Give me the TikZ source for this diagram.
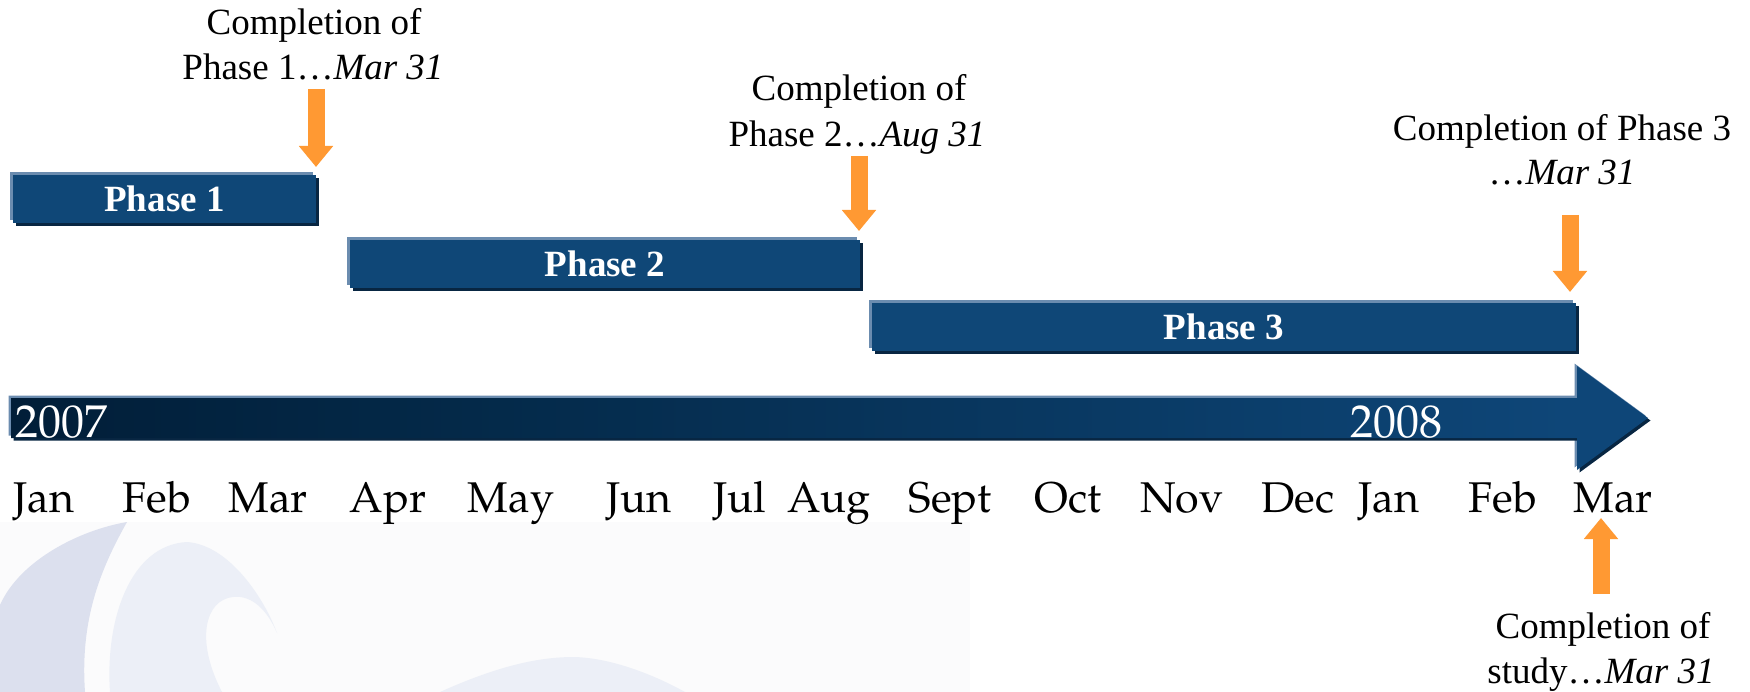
\documentclass[tikz,border=0pt]{standalone}
\usepackage[T1]{fontenc}
\usepackage{fontspec}
\setmainfont{Liberation Serif}
\usetikzlibrary{arrows.meta,shadows}
\newcommand\palfont{\fontencoding{T1}\fontfamily{ppl}\selectfont}
\definecolor{barblue}{RGB}{15,71,119}
\definecolor{edgelight}{RGB}{107,140,175}
\definecolor{shadowdark}{RGB}{8,38,66}
\definecolor{orangearr}{RGB}{255,153,51}
\definecolor{tlA}{RGB}{1,30,56}
\definecolor{tlB}{RGB}{4,42,74}
\definecolor{tlC}{RGB}{14,70,120}
\definecolor{wmdark}{RGB}{220,224,238}
\definecolor{wmlight}{RGB}{236,239,247}
\definecolor{bgfaint}{RGB}{251,251,252}
\pgfdeclarehorizontalshading{tlshade}{100bp}{color(0bp)=(tlA); color(25bp)=(tlA); color(40bp)=(tlB); color(72.5bp)=(tlC); color(100bp)=(tlC)}
\tikzset{
  lbl/.style={anchor=base, inner sep=0pt, font=\fontsize{37}{44}\selectfont},
  month/.style={anchor=base, inner sep=0pt, font=\palfont\fontsize{43}{50}\selectfont},
  year/.style={anchor=base west, inner sep=0pt, text=white, font=\palfont\fontsize{46}{50}\selectfont},
  phasebar/.style={fill=barblue, text=white, inner sep=0pt, minimum height=48pt,
    font=\bfseries\fontsize{37}{44}\selectfont,
    general shadow={fill=edgelight, shadow xshift=-3pt, shadow yshift=3pt},
    general shadow={fill=shadowdark, shadow xshift=3pt, shadow yshift=-3pt}},
  oarrow/.style={draw=orangearr, line width=17pt, -{Triangle[width=33pt,length=21pt]}}
}
\begin{document}
\begin{tikzpicture}[x=1pt,y=-1pt]
\useasboundingbox (0,0) rectangle (1750,692);
% faint watermark
\fill[bgfaint] (0,522) rectangle (970,692);
\fill[wmdark] (0,605) .. controls (20,560) and (80,530) .. (127,522)
  .. controls (100,570) and (80,620) .. (85,692) -- (0,692) -- cycle;
\fill[wmlight] (110,692) .. controls (105,620) and (130,545) .. (187,542)
  .. controls (230,545) and (265,600) .. (277,633)
  .. controls (265,605) and (248,595) .. (233,597)
  .. controls (205,600) and (195,640) .. (222,692) -- cycle;
\fill[wmlight] (440,692) .. controls (500,665) and (540,657) .. (574,657)
  .. controls (615,658) and (660,678) .. (685,692) -- cycle;

% phase bars
\node[phasebar, minimum width=303pt] (p1) at (164.5,199) {Phase 1};
\node[phasebar, minimum width=510pt] (p2) at (605,264) {Phase 2};
\node[phasebar, minimum width=704pt] (p3) at (1224,327) {Phase 3};

% timeline arrow
\coordinate (t1) at (11,398);
\coordinate (t2) at (1577,398);
\coordinate (t3) at (1577,366);
\coordinate (t4) at (1648,418);
\coordinate (t5) at (1577,470);
\coordinate (t6) at (1577,438);
\coordinate (t7) at (11,438);
\fill[edgelight] ([shift={(-2.5,-2.5)}]t1) -- ([shift={(-2.5,-2.5)}]t2) -- ([shift={(-2.5,-2.5)}]t3) -- ([shift={(-2.5,-2.5)}]t4) -- ([shift={(-2.5,-2.5)}]t5) -- ([shift={(-2.5,-2.5)}]t6) -- ([shift={(-2.5,-2.5)}]t7) -- cycle;
\fill[shadowdark] ([shift={(2.5,2.5)}]t1) -- ([shift={(2.5,2.5)}]t2) -- ([shift={(2.5,2.5)}]t3) -- ([shift={(2.5,2.5)}]t4) -- ([shift={(2.5,2.5)}]t5) -- ([shift={(2.5,2.5)}]t6) -- ([shift={(2.5,2.5)}]t7) -- cycle;
\shade[shading=tlshade] (t1) -- (t2) -- (t3) -- (t4) -- (t5) -- (t6) -- (t7) -- cycle;
\node[year] (y07) at (15,437) {2007};
\node[year] (y08) at (1350,437) {2008};

% months
\node[month] (m1) at (44,512) {Jan};
\node[month] (m2) at (157,512) {Feb};
\node[month] (m3) at (268,512) {Mar};
\node[month] (m4) at (388,512) {Apr};
\node[month] (m5) at (511,512) {May};
\node[month] (m6) at (639,512) {Jun};
\node[month] (m7) at (740,512) {Jul};
\node[month] (m8) at (829,512) {Aug};
\node[month] (m9) at (950,512) {Sept};
\node[month] (m10) at (1068,512) {Oct};
\node[month] (m11) at (1182,512) {Nov};
\node[month] (m12) at (1298,512) {Dec};
\node[month] (m13) at (1389,512) {Jan};
\node[month] (m14) at (1503,512) {Feb};
\node[month] (m15) at (1613,512) {Mar};

% labels
\node[lbl] (l1a) at (314,35) {Completion of};
\node[lbl] (l1b) at (313,80) {Phase 1…\textit{Mar 31}};
\node[lbl] (l2a) at (859,101) {Completion of};
\node[lbl] (l2b) at (857,147) {Phase 2…\textit{Aug 31}};
\node[lbl] (l3a) at (1562,141) {Completion of Phase 3};
\node[lbl] (l3b) at (1562,185) {…\textit{Mar 31}};
\node[lbl] (l4a) at (1603,638) {Completion of};
\node[lbl] (l4b) at (1601,683) {study…\textit{Mar 31}};

% orange arrows
\coordinate (a1s) at (316,89);  \coordinate (a1e) at (316,167);
\coordinate (a2s) at (859,156); \coordinate (a2e) at (859,231);
\coordinate (a3s) at (1570,215); \coordinate (a3e) at (1570,292);
\coordinate (a4s) at (1601,594); \coordinate (a4e) at (1601,518);
\draw[oarrow] (a1s) -- (a1e);
\draw[oarrow] (a2s) -- (a2e);
\draw[oarrow] (a3s) -- (a3e);
\draw[oarrow] (a4s) -- (a4e);
\end{tikzpicture}
\end{document}
